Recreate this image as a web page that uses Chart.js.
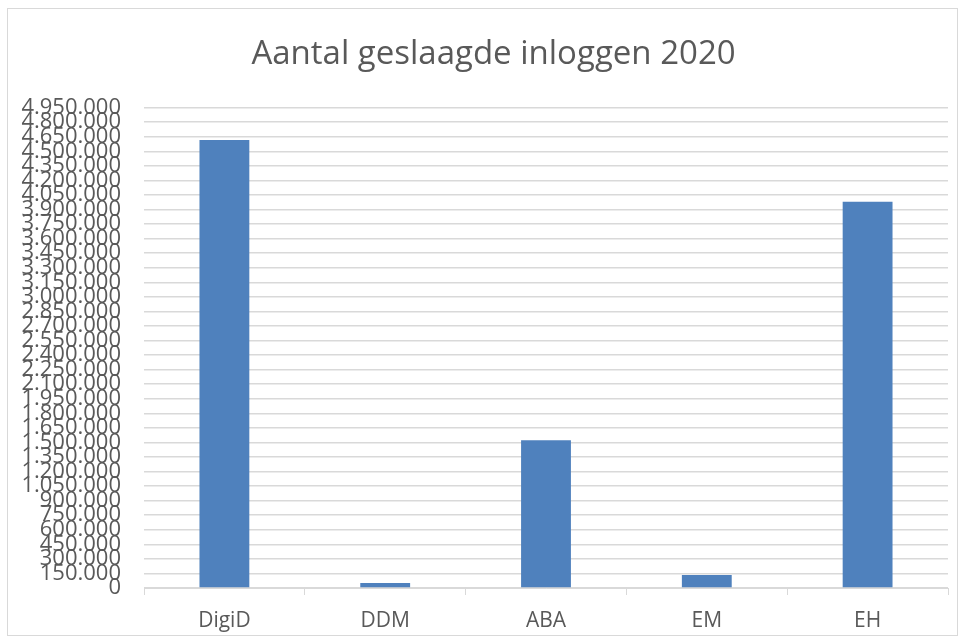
<!DOCTYPE html>
<html>
<head>
<meta charset="utf-8">
<script src="https://cdn.jsdelivr.net/npm/chart.js@4/dist/chart.umd.min.js"></script>
<style>
    body { margin: 0; background: #fff; }
    #wrap {
        position: absolute; left: 7px; top: 8px;
        width: 949px; height: 626px;
        border: 1px solid #d9d9d9;
    }
</style>
</head>
<body>
<div id="wrap"><canvas id="chart"></canvas></div>
<script>
const categories = ["DigiD", "DDM", "ABA", "EM", "EH"];
const logins = [4615000, 52000, 1522000, 134000, 3980000];
const yMax = 4950000;
const yStep = 150000;

// Nederlandse notatie: 4.950.000
function formatNL(v) {
    return String(Math.round(v)).replace(/\B(?=(\d{3})+(?!\d))/g, ".");
}

// titel iets naar rechts, zoals in het origineel
const shiftTitle = {
    id: "shiftTitle",
    afterLayout(chart) {
        if (chart.titleBlock) chart.titleBlock.left += 31;
    }
};

const ctx = document.getElementById("chart").getContext("2d");
new Chart(ctx, {
    type: "bar",
    data: {
        labels: categories,
        datasets: [{
            data: logins,
            backgroundColor: "#4f81bd",
            barPercentage: 0.31,
            categoryPercentage: 1
        }]
    },
    options: {
        responsive: true,
        maintainAspectRatio: false,
        animation: false,
        layout: { padding: { left: 0, right: 9, top: 0, bottom: 0 } },
        plugins: {
            legend: { display: false },
            tooltip: { enabled: false },
            title: {
                display: true,
                text: "Aantal geslaagde inloggen 2020",
                color: "#595959",
                font: { family: "Open Sans", size: 33, weight: "normal" },
                padding: { top: 26, bottom: 33 }
            }
        },
        scales: {
            x: {
                afterFit: function (scale) { scale.height = 47; },
                grid: { drawOnChartArea: false, color: "#d9d9d9", tickLength: 7 },
                border: { color: "#d9d9d9" },
                ticks: { color: "#595959", padding: 16, font: { family: "Open Sans", size: 21, lineHeight: 1 } }
            },
            y: {
                min: 0,
                max: yMax,
                afterFit: function (scale) { scale.width = 136; },
                grid: { color: "#d9d9d9", lineWidth: 1.5, drawTicks: false },
                border: { display: false },
                ticks: {
                    stepSize: yStep,
                    autoSkip: false,
                    padding: 23,
                    color: "#595959",
                    font: { family: "Open Sans", size: 22, lineHeight: 1 },
                    callback: function (v) { return formatNL(v); }
                }
            }
        }
    },
    plugins: [shiftTitle]
});
</script>
</body>
</html>
